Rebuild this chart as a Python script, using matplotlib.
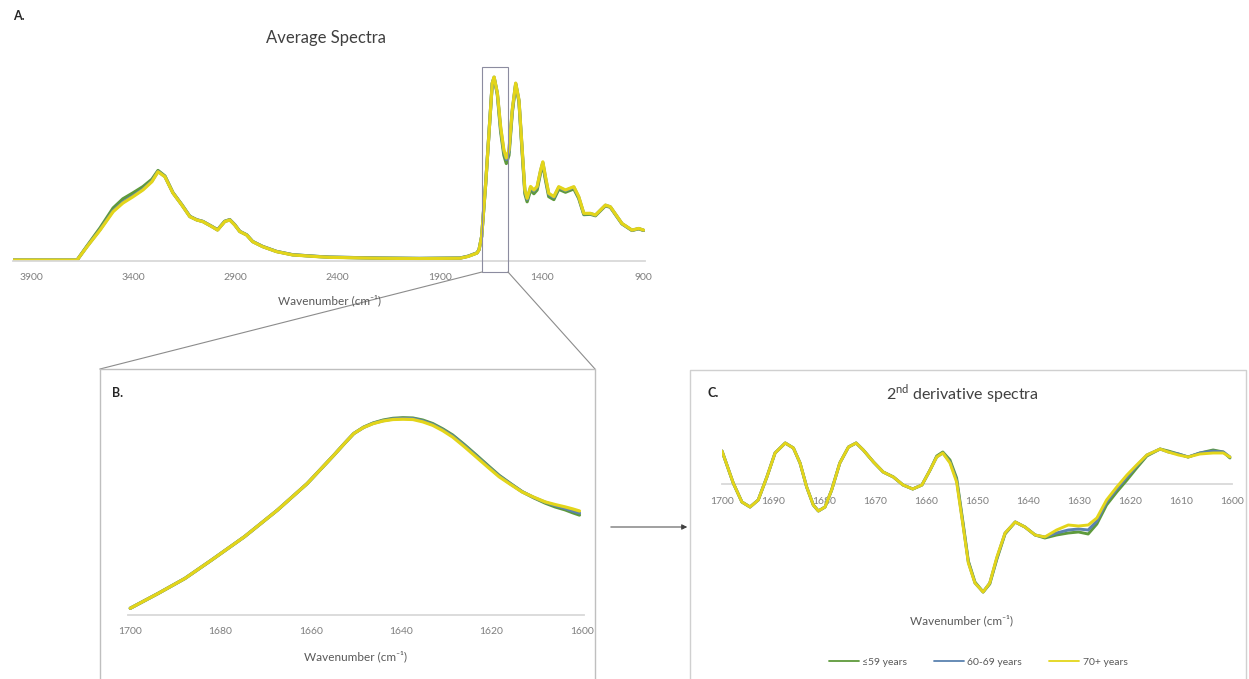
import numpy as np
import matplotlib
matplotlib.use("Agg")
import matplotlib.pyplot as plt
from matplotlib.lines import Line2D
from matplotlib.patches import Rectangle, FancyArrowPatch

plt.rcParams['font.family'] = ['Lato', 'DejaVu Sans']
plt.rcParams['mathtext.fontset'] = 'custom'
plt.rcParams['mathtext.rm'] = 'Lato'

W, H = 1249, 679

# ---- data -------------------------------------------------------------
groups = ['\u226459 years', '60-69 years', '70+ years']
colors = ['#5E9A3C', '#5B82B0', '#E3D51A']

# A. average spectra (absorbance, normalised)
wn_a = [3990, 3678, 3629, 3565, 3501, 3453, 3404, 3355, 3311, 3281, 3247, 3208,
        3164, 3125, 3091, 3061, 3017, 2989, 2954, 2929, 2905, 2880, 2846, 2817,
        2768, 2700, 2621, 2504, 2440, 2200, 2000, 1800, 1760, 1717, 1707, 1694,
        1674, 1658, 1642, 1633, 1617, 1601, 1585, 1573, 1560, 1544, 1527, 1511,
        1495, 1482, 1471, 1454, 1438, 1422, 1405, 1394, 1381, 1365, 1340, 1316,
        1283, 1242, 1218, 1193, 1161, 1136, 1087, 1063, 1006, 957, 924, 900]
abs_59 = [0.005, 0.005, 0.082, 0.180, 0.288, 0.338, 0.370, 0.404, 0.444, 0.492, 0.462, 0.372,
          0.306, 0.243, 0.224, 0.215, 0.188, 0.170, 0.216, 0.225, 0.198, 0.161, 0.142, 0.106,
          0.079, 0.052, 0.034, 0.025, 0.021, 0.016, 0.014, 0.016, 0.026, 0.044, 0.061, 0.133,
          0.424, 0.696, 0.965, 0.996, 0.905, 0.705, 0.575, 0.530, 0.575, 0.805, 0.960, 0.865,
          0.585, 0.365, 0.322, 0.385, 0.366, 0.386, 0.480, 0.525, 0.440, 0.350, 0.334, 0.390,
          0.374, 0.392, 0.340, 0.252, 0.254, 0.246, 0.300, 0.292, 0.202, 0.166, 0.175, 0.166]
abs_6069 = [0.005, 0.005, 0.079, 0.171, 0.273, 0.320, 0.354, 0.390, 0.434, 0.487, 0.459, 0.371,
            0.305, 0.242, 0.224, 0.215, 0.188, 0.169, 0.215, 0.224, 0.197, 0.161, 0.142, 0.106,
            0.079, 0.052, 0.034, 0.025, 0.021, 0.016, 0.014, 0.016, 0.026, 0.044, 0.061, 0.133,
            0.424, 0.696, 0.966, 0.999, 0.911, 0.722, 0.595, 0.552, 0.595, 0.816, 0.965, 0.872,
            0.598, 0.380, 0.336, 0.400, 0.381, 0.400, 0.490, 0.535, 0.453, 0.363, 0.346, 0.400,
            0.383, 0.401, 0.347, 0.257, 0.258, 0.249, 0.303, 0.294, 0.203, 0.167, 0.176, 0.167]
abs_70 = [0.005, 0.005, 0.078, 0.168, 0.268, 0.315, 0.349, 0.386, 0.431, 0.485, 0.458, 0.370,
          0.304, 0.241, 0.223, 0.214, 0.187, 0.168, 0.214, 0.223, 0.196, 0.160, 0.141, 0.105,
          0.078, 0.051, 0.033, 0.024, 0.020, 0.015, 0.013, 0.015, 0.025, 0.043, 0.060, 0.133,
          0.424, 0.696, 0.967, 1.000, 0.913, 0.730, 0.603, 0.560, 0.603, 0.821, 0.967, 0.875,
          0.603, 0.386, 0.341, 0.405, 0.386, 0.405, 0.494, 0.539, 0.458, 0.368, 0.350, 0.404,
          0.386, 0.404, 0.350, 0.259, 0.259, 0.250, 0.304, 0.295, 0.204, 0.168, 0.177, 0.168]

# B. amide I region
wn_b = [1700, 1693.8, 1687.9, 1682.0, 1674.7, 1667.4, 1660.8, 1654.9, 1652.5, 1650.5,
        1648.3, 1646.2, 1644.0, 1641.8, 1639.6, 1637.4, 1635.2, 1633.0, 1630.8, 1628.6,
        1626.0, 1623.4, 1620.8, 1618.3, 1615.7, 1613.2, 1610.6, 1608.1, 1605.9, 1603.7,
        1602.0, 1600.5]
amide_59 = [0.353, 0.404, 0.455, 0.518, 0.598, 0.689, 0.780, 0.877, 0.918, 0.951,
            0.973, 0.987, 0.997, 1.003, 1.005, 1.004, 0.997, 0.985, 0.967, 0.946,
            0.913, 0.878, 0.842, 0.808, 0.779, 0.752, 0.731, 0.713, 0.700, 0.690,
            0.680, 0.672]
amide_6069 = [0.353, 0.404, 0.455, 0.518, 0.598, 0.689, 0.780, 0.877, 0.918, 0.951,
              0.972, 0.986, 0.995, 1.001, 1.003, 1.002, 0.994, 0.982, 0.964, 0.943,
              0.910, 0.875, 0.839, 0.806, 0.778, 0.752, 0.732, 0.716, 0.705, 0.695,
              0.686, 0.679]
amide_70 = [0.353, 0.404, 0.455, 0.518, 0.598, 0.689, 0.780, 0.877, 0.918, 0.951,
            0.972, 0.985, 0.994, 0.999, 1.000, 0.999, 0.991, 0.979, 0.961, 0.939,
            0.906, 0.871, 0.836, 0.803, 0.776, 0.751, 0.733, 0.717, 0.708, 0.700,
            0.693, 0.686]

# C. second derivative
wn_c = [1700, 1697.8, 1696.1, 1694.5, 1692.9, 1691.2, 1689.6, 1687.6, 1686.0, 1684.7,
        1683.4, 1682.1, 1681.1, 1679.8, 1678.5, 1676.9, 1675.2, 1673.7, 1672.3, 1670.3,
        1668.4, 1666.4, 1664.5, 1662.6, 1660.8, 1659.2, 1657.9, 1656.7, 1655.3, 1654.0,
        1652.7, 1651.7, 1650.4, 1648.8, 1647.5, 1646.1, 1644.5, 1642.5, 1640.6, 1638.6,
        1636.7, 1634.4, 1632.1, 1630.1, 1628.2, 1626.5, 1624.6, 1622.6, 1620.6, 1618.7,
        1616.7, 1614.1, 1612.5, 1610.5, 1608.6, 1606.3, 1603.7, 1601.7, 1600.4]
d2_59 = [0.033, 0.001, -0.018, -0.023, -0.016, 0.007, 0.031, 0.041, 0.036, 0.021,
         -0.003, -0.021, -0.027, -0.023, -0.006, 0.021, 0.037, 0.041, 0.034, 0.022,
         0.012, 0.007, -0.001, -0.005, -0.001, 0.014, 0.028, 0.032, 0.024, 0.006,
         -0.040, -0.077, -0.098, -0.108, -0.100, -0.075, -0.050, -0.038, -0.043, -0.051,
         -0.054, -0.051, -0.049, -0.048, -0.050, -0.040, -0.021, -0.008, 0.004, 0.016,
         0.028, 0.035, 0.033, 0.030, 0.027, 0.031, 0.034, 0.032, 0.026]
d2_6069 = [0.033, 0.001, -0.018, -0.023, -0.016, 0.007, 0.031, 0.041, 0.036, 0.021,
           -0.003, -0.021, -0.027, -0.023, -0.006, 0.021, 0.037, 0.041, 0.034, 0.022,
           0.012, 0.007, -0.001, -0.005, -0.001, 0.014, 0.027, 0.031, 0.022, 0.004,
           -0.042, -0.078, -0.099, -0.108, -0.099, -0.074, -0.049, -0.038, -0.043, -0.051,
           -0.053, -0.049, -0.046, -0.045, -0.046, -0.037, -0.018, -0.005, 0.007, 0.018,
           0.029, 0.035, 0.032, 0.030, 0.027, 0.031, 0.033, 0.032, 0.027]
d2_70 = [0.033, 0.001, -0.018, -0.023, -0.016, 0.007, 0.031, 0.041, 0.036, 0.021,
         -0.003, -0.021, -0.027, -0.023, -0.006, 0.021, 0.037, 0.041, 0.034, 0.022,
         0.012, 0.007, -0.001, -0.005, -0.001, 0.014, 0.027, 0.031, 0.021, 0.002,
         -0.043, -0.079, -0.099, -0.108, -0.099, -0.073, -0.049, -0.038, -0.043, -0.051,
         -0.053, -0.046, -0.041, -0.042, -0.041, -0.034, -0.016, -0.003, 0.009, 0.019,
         0.029, 0.035, 0.032, 0.029, 0.027, 0.030, 0.031, 0.031, 0.027]

# ---- layout helpers ---------------------------------------------------
def rect(x0, y0, x1, y1):
    return [x0 / W, 1 - y1 / H, (x1 - x0) / W, (y1 - y0) / H]

def fx(x):
    return x / W

def fy(y):
    return 1 - y / H

tick_col = '#7F7F7F'
text_col = '#595959'
axis_col = '#D9D9D9'

def style(ax):
    for s in ['top', 'right', 'left']:
        ax.spines[s].set_visible(False)
    ax.spines['bottom'].set_color(axis_col)
    ax.spines['bottom'].set_linewidth(1.3)
    ax.set_yticks([])
    ax.tick_params(axis='x', length=0, pad=9, labelsize=7.5, labelcolor=tick_col)
    ax.patch.set_alpha(0)

def draw(ax, series, lw):
    out = []
    for vals, c, g in zip(series[1], colors, groups):
        ln, = ax.plot(series[0], vals, color=c, lw=lw, solid_joinstyle='round',
                      solid_capstyle='round', label=g)
        out.append(ln)
    return out

fig = plt.figure(figsize=(W / 100, H / 100), dpi=100)

# ---- A ----------------------------------------------------------------
axA = fig.add_axes(rect(13, 66, 645, 261))
draw(axA, (wn_a, [abs_59, abs_6069, abs_70]), 2.3)
axA.set_xlim(3992, 893)
axA.set_ylim(0, 1.06)
axA.set_xticks([3900, 3400, 2900, 2400, 1900, 1400, 900])
style(axA)
fig.text(fx(13), fy(16), 'A.', fontsize=9, fontweight='bold', color='#262626', va='center')
fig.text(fx(326), fy(38), 'Average Spectra', fontsize=12, color='#404040', ha='center', va='center')
fig.text(fx(330), fy(300), 'Wavenumber (cm\u207b\u00b9)', fontsize=8.5, color=text_col,
         ha='center', va='center')

# zoom box and connector lines
fig.add_artist(Rectangle((fx(482), fy(272)), (508 - 482) / W, (272 - 67) / H,
                         transform=fig.transFigure, fill=False, ec='#8C8CA0', lw=0.8))
fig.add_artist(Line2D([fx(482), fx(100)], [fy(272), fy(369)], transform=fig.transFigure,
                      color='#8C8C8C', lw=0.8))
fig.add_artist(Line2D([fx(508), fx(595)], [fy(272), fy(369)], transform=fig.transFigure,
                      color='#8C8C8C', lw=0.8))

# ---- B ----------------------------------------------------------------
fig.add_artist(Line2D([fx(100), fx(100), fx(595), fx(595)], [fy(690), fy(369), fy(369), fy(690)],
                      transform=fig.transFigure, color='#BFBFBF', lw=1.0))
axB = fig.add_axes(rect(128, 390, 584, 615))
draw(axB, (wn_b, [amide_59, amide_6069, amide_70]), 2.3)
axB.set_xlim(1700.5, 1599.5)
axB.set_ylim(0.33, 1.1)
axB.set_xticks([1700, 1680, 1660, 1640, 1620, 1600])
style(axB)
fig.text(fx(112), fy(393), 'B.', fontsize=9, fontweight='bold', color='#262626', va='center')
fig.text(fx(355), fy(656), 'Wavenumber (cm\u207b\u00b9)', fontsize=8.5, color=text_col,
         ha='center', va='center')

# arrow B -> C
fig.add_artist(FancyArrowPatch((fx(608), fy(527)), (fx(690), fy(527)),
                               transform=fig.transFigure, arrowstyle='-|>',
                               mutation_scale=8, color='#404040', lw=0.7))

# ---- C ----------------------------------------------------------------
fig.add_artist(Line2D([fx(690), fx(690), fx(1246), fx(1246)], [fy(690), fy(370), fy(370), fy(690)],
                      transform=fig.transFigure, color='#D0D0D0', lw=1.0))
axC = fig.add_axes(rect(722, 430, 1232, 600))
lines = draw(axC, (wn_c, [d2_59, d2_6069, d2_70]), 2.1)
axC.set_xlim(1700, 1600)
axC.set_ylim(-0.116, 0.054)
axC.set_xticks(list(range(1700, 1599, -10)))
style(axC)
axC.spines['bottom'].set_position(('data', 0))
axC.spines['bottom'].set_zorder(0)
fig.text(fx(708), fy(393), 'C.', fontsize=9, fontweight='bold', color='#262626', va='center')
fig.text(fx(962), fy(394), r'2$^{\mathrm{nd}}$ derivative spectra', fontsize=11.5,
         color='#404040', ha='center', va='center')
fig.text(fx(962), fy(620), 'Wavenumber (cm\u207b\u00b9)', fontsize=8.5, color=text_col,
         ha='center', va='center')
fig.legend(handles=lines, loc='center', bbox_to_anchor=(fx(978), fy(662)),
           bbox_transform=fig.transFigure, ncol=3, frameon=False, fontsize=7.5,
           labelcolor=text_col, handlelength=2.9, columnspacing=2.6, handletextpad=0.3)
for h in fig.legends[0].get_lines():
    h.set_linewidth(1.3)

fig.savefig('out.png', dpi=100, facecolor='white')
